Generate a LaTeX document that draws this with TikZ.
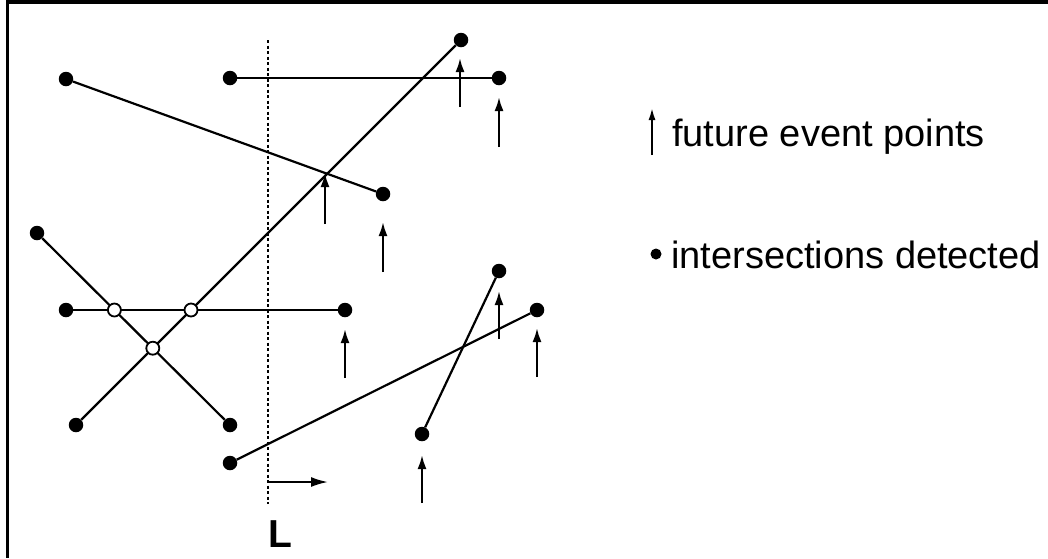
\documentclass[tikz,border=0pt]{standalone}
\usepackage{fontspec}
\setmainfont{Liberation Sans}
\usetikzlibrary{arrows.meta,intersections}
\begin{document}
\begin{tikzpicture}[x=1pt,y=-1pt,
  dot/.style={circle,fill=black,inner sep=0pt,minimum size=14.5pt},
  hollow/.style={circle,draw=black,fill=white,line width=1.8pt,inner sep=0pt,minimum size=13pt},
  seg/.style={line width=2.2pt},
  evarrow/.style={line width=2.2pt,-{Latex[length=14pt,width=9pt]}},
  sweep/.style={line width=2pt,dash pattern=on 3pt off 2.5pt},
  legend/.style={font=\fontsize{38}{44}\selectfont,anchor=base west,inner sep=0pt}]
\useasboundingbox (0,0) rectangle (1048,558);
% frame (top and left edges only)
\draw[line width=3.5pt] (7,2) -- (1048,2);
\draw[line width=3pt] (7,0) -- (7,558);
% sweep line
\coordinate (Ltop) at (268,40);
\coordinate (Lbot) at (268,504);
\draw[sweep] (Ltop) -- (Lbot);
\coordinate (Lmid) at (268,482);
\coordinate (Lend) at (328,482);
\draw[line width=2pt,-{Latex[length=17pt,width=10pt]}] (Lmid) -- (Lend);
\node[font=\fontsize{39}{44}\selectfont\bfseries,anchor=base,inner sep=0pt] (Llab) at (280,547) {L};
% end points
\node[dot] (a1) at (66,79) {};
\node[dot] (a2) at (383,194) {};
\node[dot] (b1) at (230,78) {};
\node[dot] (b2) at (499,78) {};
\node[dot] (c1) at (461,40) {};
\node[dot] (c2) at (76,425) {};
\node[dot] (d1) at (37,233) {};
\node[dot] (d2) at (230,425) {};
\node[dot] (e1) at (66,310) {};
\node[dot] (e2) at (345,310) {};
\node[dot] (f1) at (499,271) {};
\node[dot] (f2) at (422,434) {};
\node[dot] (g1) at (537,310) {};
\node[dot] (g2) at (230,463) {};
% segments
\draw[seg] (a1) -- (a2);
\draw[seg] (b1) -- (b2);
\draw[seg,name path=cline] (c1) -- (c2);
\draw[seg,name path=dline] (d1) -- (d2);
\draw[seg,name path=eline] (e1) -- (e2);
\draw[seg] (f1) -- (f2);
\draw[seg] (g1) -- (g2);
% found intersections
\path[name intersections={of=cline and eline,name=ce}];
\path[name intersections={of=dline and eline,name=de}];
\path[name intersections={of=cline and dline,name=cd}];
\node[hollow] (x1) at (ce-1) {};
\node[hollow] (x2) at (de-1) {};
\node[hollow] (x3) at (cd-1) {};
% future event points
\draw[evarrow] (460,107) -- (460,58);
\draw[evarrow] (499,147) -- (499,97);
\draw[evarrow] (325,224) -- (325,173);
\draw[evarrow] (383,272) -- (383,222);
\draw[evarrow] (345,378) -- (345,329);
\draw[evarrow] (499,339) -- (499,291);
\draw[evarrow] (537,377) -- (537,328);
\draw[evarrow] (422,503) -- (422,455);
% legend
\draw[line width=1.8pt,-{Latex[length=12pt,width=7pt]}] (652,155) -- (652,108);
\node[legend] (t1) at (672,146) {future event points};
\fill (656,254) circle (5.5pt);
\node[legend] (t2) at (671,268) {intersections detected};
\end{tikzpicture}
\end{document}
